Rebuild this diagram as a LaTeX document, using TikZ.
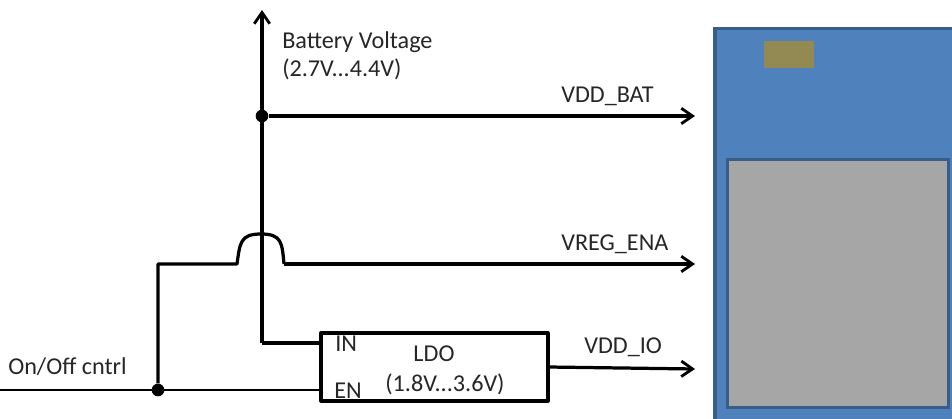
\documentclass[tikz,border=0pt]{standalone}
\usepackage{fontspec}
\setmainfont{Carlito}
\usepackage{tikz}
\usetikzlibrary{arrows.meta}

\definecolor{boardblue}{HTML}{4F81BD}
\definecolor{boardedge}{HTML}{385D8A}
\definecolor{shieldgray}{HTML}{A6A6A6}
\definecolor{padolive}{HTML}{938953}

\tikzset{
  wire/.style={line width=2.3pt,line join=round},
  thinwire/.style={line width=2.1pt},
  sig/.style={wire,-{Straight Barb[length=8pt,width=11pt,line width=2pt]}},
  dot/.style={circle,fill=black,inner sep=0pt,minimum size=9pt},
  lbl/.style={inner sep=0pt,font=\fontsize{17.2}{20}\selectfont,text=black!85},
}

\begin{document}
\begin{tikzpicture}[x=0.025cm,y=-0.025cm]
  \useasboundingbox (0,0) rectangle (952,419);

  \begin{scope}
    \clip (0,0) rectangle (952,419);
    \draw[boardedge,line width=2.3pt,fill=boardblue] (715,28.5) rectangle (990,440);
    \draw[boardedge,line width=2.3pt,fill=shieldgray] (727.5,159.5) rectangle (948.5,407.5);
    \fill[padolive] (764,41) rectangle (814,68);
  \end{scope}

  \coordinate (top) at (262,10);
  \node[dot] (jbat) at (262,116) {};
  \node[dot] (jen) at (158,390) {};
  \coordinate (start) at (0,390);
  \coordinate (bump1) at (237,264);
  \coordinate (bump2) at (284,264);
  \coordinate (corner) at (158,264);
  \coordinate (inbend) at (262,343);

  \node[draw,wire,fill=white,minimum width=227*0.025cm,minimum height=68*0.025cm,inner sep=0pt] (ldo) at (434.5,367) {};
  \coordinate (ldoin) at (321,343);
  \coordinate (ldoen) at (321,390);
  \coordinate (ldoout) at (548,367);

  \coordinate (endbat) at (695,116);
  \coordinate (endreg) at (695,264);
  \coordinate (endio) at (695,369);

  \draw[sig] (inbend) -- (top);
  \draw[wire] (inbend) -- (ldoin);
  \draw[sig] (jbat) -- (endbat);
  \draw[thinwire] (start) -- (ldoen);
  \draw[wire] (jen) -- (corner) -- (bump1)
    .. controls (240,243) and (240,234) .. (261,234)
    .. controls (282,234) and (282,243) .. (bump2);
  \draw[sig] (bump2) -- (endreg);
  \draw[sig] (ldoout) -- (endio);

  \node[lbl,anchor=west] (lblbat) at (282,42) {Battery Voltage};
  \node[lbl,anchor=west] (lblrange) at (282,69) {(2.7V...4.4V)};
  \node[lbl,anchor=west] (lblvbat) at (561,96) {VDD\_BAT};
  \node[lbl,anchor=west] (lblvreg) at (561,244) {VREG\_ENA};
  \node[lbl,anchor=west] (lblvio) at (584,347) {VDD\_IO};
  \node[lbl,anchor=west] (lblctl) at (8,367) {On/Off cntrl};
  \node[lbl,anchor=west] (lblin) at (335,344) {IN};
  \node[lbl,anchor=west] (lblen) at (334,391) {EN};
  \node[lbl,anchor=center] (lblldo) at (434,354) {LDO};
  \node[lbl,anchor=center] (lblldov) at (445,384) {(1.8V...3.6V)};
\end{tikzpicture}
\end{document}
